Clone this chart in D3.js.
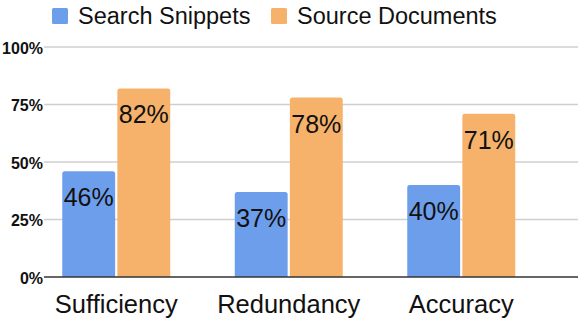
<!DOCTYPE html>
<html lang="en">
<head>
  <meta charset="UTF-8" />
  <title>Snippets vs Documents</title>
  <style>
    body { margin: 0; background: #fff; }
    text { font-family: "Liberation Sans", Arial, sans-serif; fill: #111; }
    .grid-line { stroke: #cfcfcf; stroke-width: 1.5px; }
    .base-line { stroke: #333; stroke-width: 1.5px; }
    .tick-label { font-size: 16px; font-weight: bold; }
    .cat-label { font-size: 25.5px; }
    .value-label { font-size: 25px; }
    .legend-text { font-size: 23.5px; }
  </style>
</head>
<body>
  <script src="https://cdn.jsdelivr.net/npm/d3@7"></script>
  <script>
    var categories = ["Sufficiency", "Redundancy", "Accuracy"];
    var seriesNames = ["Search Snippets", "Source Documents"];
    var snippetValues = [46, 37, 40];
    var documentValues = [82, 78, 71];
    var yTicks = [0, 25, 50, 75, 100];
    var colors = ["#6d9eeb", "#f6b26b"];

    var w = 581;
    var h = 326;

    var svg = d3.select("body")
      .append("svg")
      .attr("width", w)
      .attr("height", h);

    var yScale = d3.scaleLinear()
      .domain([0, 100])
      .range([277, 47]);

    var xScale = d3.scaleBand()
      .domain(categories)
      .range([30, 547.5])
      .paddingInner(0.374)
      .paddingOuter(0.187);

    var subScale = d3.scaleBand()
      .domain(seriesNames)
      .range([0, xScale.bandwidth()])
      .paddingInner(0.04);

    // gridlines
    svg.selectAll(".grid-line")
      .data(yTicks.filter(function(d) { return d > 0; }))
      .enter()
      .append("line")
      .attr("class", "grid-line")
      .attr("x1", 44)
      .attr("x2", 578)
      .attr("y1", function(d) { return yScale(d); })
      .attr("y2", function(d) { return yScale(d); });

    var yAxis = d3.axisLeft(yScale)
      .tickValues(yTicks)
      .tickSize(0)
      .tickPadding(1)
      .tickFormat(function(d) { return d + "%"; });

    var yg = svg.append("g")
      .attr("transform", "translate(44,0)")
      .call(yAxis);
    yg.select(".domain").remove();
    yg.selectAll("text")
      .attr("class", "tick-label")
      .attr("dy", "0.4em");
    yg.attr("font-size", null).attr("font-family", null);

    var rows = categories.map(function(c, i) {
      return { cat: c, values: [snippetValues[i], documentValues[i]] };
    });

    var groups = svg.selectAll(".group")
      .data(rows)
      .enter()
      .append("g")
      .attr("class", "group")
      .attr("transform", function(d) { return "translate(" + xScale(d.cat) + ",0)"; });

    var cells = groups.selectAll(".cell")
      .data(function(d) {
        return d.values.map(function(v, j) { return { name: seriesNames[j], value: v, idx: j }; });
      })
      .enter()
      .append("g");

    cells.append("path")
      .attr("fill", function(d) { return colors[d.idx]; })
      .attr("d", function(d) {
        var x0 = subScale(d.name), bw = subScale.bandwidth();
        var y0 = yScale(d.value), y1 = yScale(0), r = 2.5;
        return "M" + x0 + "," + y1 +
          "V" + (y0 + r) +
          "Q" + x0 + "," + y0 + " " + (x0 + r) + "," + y0 +
          "H" + (x0 + bw - r) +
          "Q" + (x0 + bw) + "," + y0 + " " + (x0 + bw) + "," + (y0 + r) +
          "V" + y1 + "Z";
      });

    cells.append("text")
      .attr("class", "value-label")
      .attr("text-anchor", "middle")
      .attr("x", function(d) { return subScale(d.name) + subScale.bandwidth() / 2; })
      .attr("y", function(d) { return yScale(d.value) + 35; })
      .text(function(d) { return d.value + "%"; });

    svg.append("line")
      .attr("class", "base-line")
      .attr("x1", 44)
      .attr("x2", 578)
      .attr("y1", yScale(0))
      .attr("y2", yScale(0));

    svg.selectAll(".cat-label")
      .data(categories)
      .enter()
      .append("text")
      .attr("class", "cat-label")
      .attr("text-anchor", "middle")
      .attr("x", function(d) { return xScale(d) + xScale.bandwidth() / 2; })
      .attr("y", 313)
      .text(function(d) { return d; });

    // legend
    var legendX = [52, 271];
    var legend = svg.selectAll(".legend")
      .data(seriesNames)
      .enter()
      .append("g")
      .attr("class", "legend")
      .attr("transform", function(d, i) { return "translate(" + legendX[i] + ",8)"; });

    legend.append("rect")
      .attr("width", 16)
      .attr("height", 16)
      .attr("rx", 1.5)
      .attr("fill", function(d, i) { return colors[i]; });

    legend.append("text")
      .attr("class", "legend-text")
      .attr("x", 26)
      .attr("y", 16)
      .text(function(d) { return d; });
  </script>
</body>
</html>
